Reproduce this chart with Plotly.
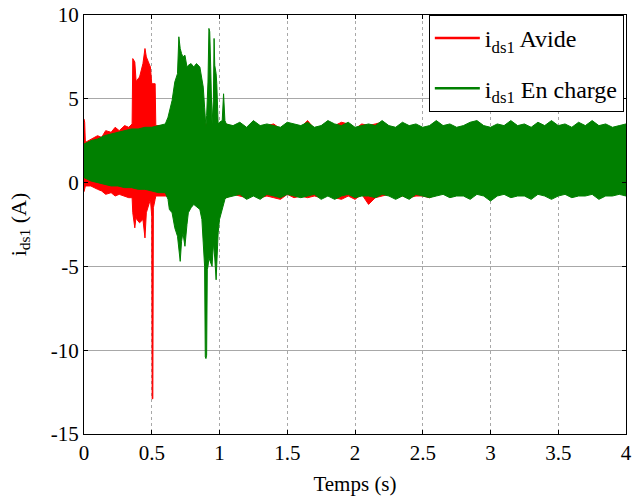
import plotly.graph_objects as go

# ---------------- data (envelopes) ----------------
T_STEADY = [1.1, 1.15, 1.2, 1.25, 1.3, 1.35, 1.4, 1.45, 1.5, 1.55,
            1.6, 1.65, 1.7, 1.75, 1.8, 1.85, 1.9, 1.95, 2.0, 2.05,
            2.1, 2.15, 2.2, 2.25, 2.3, 2.35, 2.4, 2.45, 2.5, 2.55,
            2.6, 2.65, 2.7, 2.75, 2.8, 2.85, 2.9, 2.95, 3.0, 3.05,
            3.1, 3.15, 3.2, 3.25, 3.3, 3.35, 3.4, 3.45, 3.5, 3.55,
            3.6, 3.65, 3.7, 3.75, 3.8, 3.85, 3.9, 3.95, 4.0]

# i_ds1 en charge (green)
t_green = [0.0, 0.05, 0.1, 0.15, 0.2, 0.25, 0.3, 0.35, 0.4, 0.45, 0.5, 0.55, 0.6,
           0.62, 0.63, 0.65, 0.67, 0.69, 0.7, 0.71, 0.72, 0.73, 0.745, 0.76, 0.77,
           0.79, 0.81, 0.83, 0.855, 0.87, 0.88, 0.89, 0.895, 0.9, 0.905, 0.91,
           0.915, 0.922, 0.928, 0.935, 0.945, 0.955, 0.96, 0.965, 0.975, 0.98,
           0.99, 1.0, 1.02, 1.03, 1.04, 1.05] + T_STEADY
green_upper = [2.3, 2.5, 2.6, 2.8, 2.9, 3.0, 3.1, 3.2, 3.2, 3.3, 3.3, 3.4, 3.5,
               3.9, 4.3, 4.9, 6.0, 6.5, 8.7, 8.0, 7.7, 7.5, 7.6, 6.9, 7.0,
               7.1, 6.9, 7.1, 6.9, 6.2, 5.7, 4.5, 3.6, 3.3, 4.0, 5.0,
               6.0, 9.2, 9.0, 6.9, 3.5, 5.0, 8.6, 7.0, 6.5, 5.9,
               3.5, 3.6, 3.7, 5.3, 3.7, 3.5,
               3.4, 3.6, 3.3, 3.7, 3.4, 3.5, 3.4, 3.3, 3.6, 3.5,
               3.4, 3.6, 3.3, 3.4, 3.7, 3.5, 3.4, 3.6, 3.3, 3.4,
               3.5, 3.4, 3.7, 3.4, 3.3, 3.6, 3.4, 3.5, 3.3, 3.4,
               3.7, 3.4, 3.5, 3.3, 3.4, 3.6, 3.7, 3.4, 3.3, 3.5,
               3.4, 3.7, 3.4, 3.5, 3.3, 3.6, 3.4, 3.7, 3.4, 3.5,
               3.3, 3.6, 3.4, 3.7, 3.4, 3.5, 3.3, 3.4, 3.5]
green_lower = [0.3, 0.1, 0.0, -0.1, -0.2, -0.2, -0.3, -0.3, -0.4, -0.4, -0.5, -0.6, -0.6,
               -1.0, -1.6, -1.8, -2.7, -3.2, -4.0, -4.7, -3.5, -3.0, -3.8, -2.5, -1.8,
               -1.5, -1.3, -1.4, -1.6, -2.2, -3.6, -5.0, -10.4, -10.5, -10.3, -5.2,
               -5.0, -4.5, -4.6, -4.8, -5.0, -3.6, -3.8, -4.5, -5.8, -5.5,
               -3.0, -2.2, -1.6, -1.3, -1.0, -0.9,
               -0.8, -0.7, -1.0, -0.8, -1.0, -0.7, -0.8, -0.9, -0.7, -0.8,
               -0.9, -0.8, -0.7, -1.0, -0.8, -1.0, -0.8, -0.7, -0.9, -0.8,
               -0.8, -0.9, -0.7, -0.8, -1.0, -0.8, -1.0, -0.7, -0.8, -0.9,
               -0.8, -0.7, -0.9, -0.8, -0.8, -1.0, -0.7, -0.8, -1.1, -0.8,
               -0.7, -0.9, -0.8, -0.8, -1.0, -0.7, -0.8, -1.0, -0.8, -0.7,
               -0.9, -0.8, -0.8, -0.7, -1.0, -0.8, -0.8, -0.7, -0.8]

# i_ds1 a vide (red)
t_red = [0.0, 0.005, 0.01, 0.05, 0.1, 0.13, 0.16, 0.2, 0.23, 0.26, 0.3, 0.33, 0.355,
         0.36, 0.375, 0.385, 0.39, 0.41, 0.435, 0.45, 0.46, 0.475, 0.49, 0.5,
         0.503, 0.508, 0.512, 0.525, 0.53, 0.55, 0.6, 0.65, 0.7, 0.75, 0.8, 0.85,
         0.9, 0.95, 1.0, 1.05] + T_STEADY
red_upper = [3.8, 3.6, 2.4, 2.6, 2.8, 2.7, 3.1, 3.0, 3.3, 3.1, 3.4, 3.3, 3.5,
             7.4, 7.2, 6.0, 6.1, 6.3, 7.1, 8.0, 7.5, 7.2, 6.9, 5.9,
             5.9, 5.9, 5.9, 5.9, 3.4, 3.4, 3.4, 3.5, 3.4, 3.5, 3.4, 3.5,
             3.5, 3.4, 3.5, 3.5,
             3.3, 3.5, 3.2, 3.6, 3.3, 3.4, 3.5, 3.2, 3.5, 3.4,
             3.3, 3.7, 3.2, 3.3, 3.6, 3.4, 3.6, 3.5, 3.2, 3.5,
             3.4, 3.5, 3.6, 3.3, 3.2, 3.5, 3.3, 3.4, 3.2, 3.3,
             3.6, 3.3, 3.4, 3.2, 3.3, 3.5, 3.6, 3.3, 3.2, 3.4,
             3.3, 3.6, 3.3, 3.4, 3.2, 3.5, 3.3, 3.6, 3.3, 3.4,
             3.2, 3.5, 3.3, 3.6, 3.3, 3.4, 3.2, 3.3, 3.4]
red_lower = [-0.55, -0.5, -0.2, -0.2, -0.4, -0.5, -0.7, -0.6, -0.8, -0.7, -0.8, -0.9, -0.9,
             -1.8, -2.7, -2.0, -2.2, -2.4, -2.2, -3.3, -1.8, -1.4, -1.0, -2.0,
             -12.9, -12.9, -1.5, -1.0, -0.8, -0.8, -0.8, -0.9, -0.8, -0.9, -0.8, -0.9,
             -0.8, -0.9, -0.9, -0.9,
             -0.7, -0.8, -0.9, -0.7, -0.9, -0.8, -0.9, -1.0, -0.7, -0.9,
             -0.8, -0.9, -0.8, -0.9, -0.7, -0.9, -1.0, -0.8, -1.0, -0.7,
             -1.3, -0.9, -0.8, -0.7, -0.9, -0.8, -0.9, -0.8, -0.8, -0.9,
             -0.7, -0.6, -0.8, -0.7, -0.7, -0.9, -0.6, -0.7, -1.0, -0.7,
             -0.6, -0.8, -0.7, -0.7, -0.9, -0.6, -0.7, -0.9, -0.7, -0.6,
             -0.8, -0.7, -0.7, -0.6, -0.9, -0.7, -0.7, -0.6, -0.7]

x_ticks = [0, 0.5, 1, 1.5, 2, 2.5, 3, 3.5, 4]
y_ticks = [-15, -10, -5, 0, 5, 10]

RED = "#ff0000"
GREEN = "#008000"
FONT = "Liberation Serif, Times New Roman, serif"

fig = go.Figure()


def band(t, up, lo, color):
    return go.Scatter(
        x=list(t) + list(t)[::-1],
        y=list(up) + list(lo)[::-1],
        fill="toself", fillcolor=color,
        mode="lines", line=dict(color=color, width=1),
        showlegend=False, hoverinfo="skip",
    )


fig.add_trace(band(t_red, red_upper, red_lower, RED))
fig.add_trace(band(t_green, green_upper, green_lower, GREEN))

fig.add_trace(go.Scatter(x=[None], y=[None], mode="lines",
                         line=dict(color=RED, width=2.5),
                         name="i<sub>ds1</sub> Avide", legendgroup="a"))
fig.add_trace(go.Scatter(x=[None], y=[None], mode="lines",
                         line=dict(color=GREEN, width=2.5),
                         name="i<sub>ds1</sub> En charge", legendgroup="b"))

axis_common = dict(
    showline=True, linecolor="black", linewidth=1, mirror="ticks",
    ticks="inside", ticklen=4, tickcolor="black",
    zeroline=False, showgrid=True, automargin=False,
    tickfont=dict(family=FONT, size=21, color="black"),
)

fig.update_xaxes(
    range=[0, 4], tickvals=x_ticks, ticktext=[str(v) for v in x_ticks],
    gridcolor="#a8a8a8", griddash="dot", gridwidth=1,
    title=dict(text="Temps (s)", font=dict(family=FONT, size=21, color="black"),
               standoff=12),
    **axis_common,
)
fig.update_yaxes(
    range=[-15, 10], tickvals=y_ticks, ticktext=[str(v) for v in y_ticks],
    gridcolor="#a8a8a8", gridwidth=1,
    title=dict(text="i<sub>ds1</sub> (A)", font=dict(family=FONT, size=22, color="black"),
               standoff=18),
    **axis_common,
)

fig.update_layout(
    width=634, height=502,
    margin=dict(l=84, r=8, t=15, b=68),
    paper_bgcolor="white", plot_bgcolor="white",
    font=dict(family=FONT, color="black"),
    legend=dict(
        x=0.996, y=1, xanchor="right", yanchor="top",
        bgcolor="white", bordercolor="black", borderwidth=1,
        font=dict(family=FONT, size=24, color="black"),
        itemwidth=45, tracegroupgap=16, traceorder="grouped",
    ),
    showlegend=True,
)

fig.write_html("out.html",
               config={"displayModeBar": False},
               post_script="document.body.style.margin='0';document.body.style.overflow='hidden';")
